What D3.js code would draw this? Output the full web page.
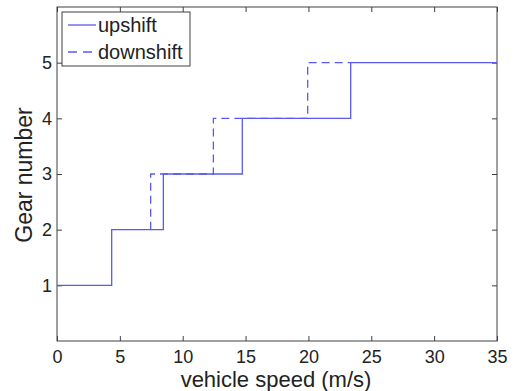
<!DOCTYPE html>
<html><head><meta charset="utf-8">
<script src="https://cdn.jsdelivr.net/npm/d3@7"></script>
<style>body{margin:0;background:#fff}svg{display:block}</style>
</head><body>
<script>
// Data
const upSpeeds = [0, 4.35, 8.46, 14.74, 23.36, 35];
const upGears = [1, 2, 3, 4, 5, 5];
const downStart = [7.45, 2];
const downSpeeds = [7.45, 12.44, 19.94, 23.36];
const downGears = [3, 4, 5, 5];
const xTicks = [0, 5, 10, 15, 20, 25, 30, 35];
const yTicks = [1, 2, 3, 4, 5];
const seriesNames = ["upshift", "downshift"];

const W = 516, H = 391;
const m = {left: 57, right: 19, top: 7, bottom: 50};
const svg = d3.select("body").append("svg").attr("width", W).attr("height", H);
const x = d3.scaleLinear().domain([0, 35]).range([m.left, W - m.right]);
const y = d3.scaleLinear().domain([0, 6]).range([H - m.bottom, m.top]);
const axisColor = "#404040";
const lineColor = "#5a5aee";
const font = "Liberation Sans, Arial, sans-serif";

// Axes
function styleAxis(g, labels) {
  g.select(".domain").remove();
  g.selectAll("line").attr("stroke", axisColor);
  g.selectAll("text").attr("font-family", font).attr("font-size", 18).attr("fill", "#222");
  if (!labels) g.selectAll("text").remove();
}
svg.append("g").attr("transform", `translate(0,${y(0)})`)
  .call(d3.axisBottom(x).tickValues(xTicks).tickSize(-5).tickPadding(9).tickFormat(d3.format("d")))
  .call(g => styleAxis(g, true));
svg.append("g").attr("transform", `translate(0,${y(6)})`)
  .call(d3.axisTop(x).tickValues(xTicks).tickSize(-5))
  .call(g => styleAxis(g, false));
svg.append("g").attr("transform", `translate(${x(0)},0)`)
  .call(d3.axisLeft(y).tickValues(yTicks).tickSize(-5).tickPadding(5).tickFormat(d3.format("d")))
  .call(g => styleAxis(g, true));
svg.append("g").attr("transform", `translate(${x(35)},0)`)
  .call(d3.axisRight(y).tickValues(yTicks).tickSize(-5))
  .call(g => styleAxis(g, false));
svg.append("rect").attr("x", x(0)).attr("y", y(6)).attr("width", x(35) - x(0)).attr("height", y(0) - y(6))
  .attr("fill", "none").attr("stroke", axisColor).attr("stroke-width", 1);

// Lines
const stepLine = d3.line().x(d => x(d[0])).y(d => y(d[1])).curve(d3.curveStepAfter);
const upData = upSpeeds.map((s, i) => [s, upGears[i]]);
const downData = [downStart].concat(downSpeeds.map((s, i) => [s, downGears[i]]));
svg.append("path").attr("d", stepLine(downData))
  .attr("fill", "none").attr("stroke", lineColor).attr("stroke-width", 1.3).attr("stroke-dasharray", "8,5");
svg.append("path").attr("d", stepLine(upData))
  .attr("fill", "none").attr("stroke", lineColor).attr("stroke-width", 1.3);

// Labels
svg.append("text").attr("x", (x(0) + x(35)) / 2 - 1).attr("y", 387).attr("text-anchor", "middle")
  .attr("font-family", font).attr("font-size", 22).attr("fill", "#222").text("vehicle speed (m/s)");
svg.append("text").attr("transform", `translate(32,${(y(0) + y(6)) / 2 + 1}) rotate(-90)`).attr("text-anchor", "middle")
  .attr("font-family", font).attr("font-size", 23).attr("fill", "#222").text("Gear number");

// Legend
const lg = svg.append("g");
lg.append("rect").attr("x", 62).attr("y", 12).attr("width", 128).attr("height", 54)
  .attr("fill", "#fff").attr("stroke", axisColor).attr("stroke-width", 1);
seriesNames.forEach((n, i) => {
  const ly = 25 + i * 27;
  lg.append("line").attr("x1", 68).attr("x2", 96).attr("y1", ly).attr("y2", ly)
    .attr("stroke", lineColor).attr("stroke-width", 1.3).attr("stroke-dasharray", i ? "9,6" : null);
  lg.append("text").attr("x", 98).attr("y", ly + 7).attr("font-family", font).attr("font-size", 20)
    .attr("fill", "#222").text(n);
});
</script>
</body></html>
